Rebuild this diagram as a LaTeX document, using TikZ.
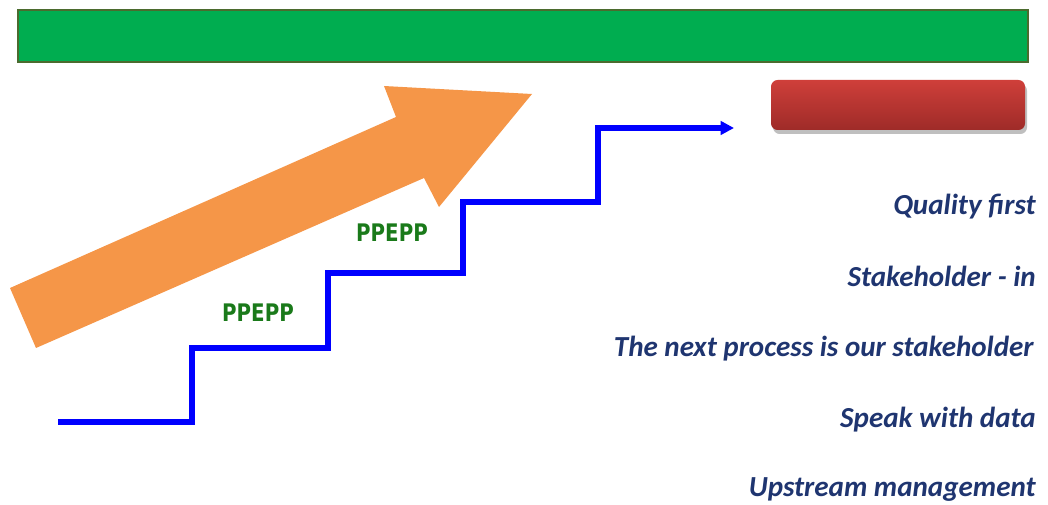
\documentclass[tikz,border=0pt]{standalone}
\usepackage{fontspec}
\usepackage{xcolor}
\newfontfamily\bodyfont{Carlito}
\newfontfamily\labelfont{DejaVu Sans}
\definecolor{bargreen}{HTML}{00AD50}
\definecolor{barrim}{HTML}{4B6B2E}
\definecolor{boxtop}{HTML}{CF3F3A}
\definecolor{boxbot}{HTML}{9E2B28}
\definecolor{arroworange}{HTML}{F59648}
\definecolor{stepblue}{HTML}{0000FF}
\definecolor{ppgreen}{HTML}{1A7A1A}
\definecolor{navytext}{HTML}{1F3570}
\usetikzlibrary{arrows.meta}
\tikzset{
  motto/.style={anchor=base east,inner sep=0,text=navytext,font=\bodyfont\bfseries\itshape\fontsize{21.8}{24}\selectfont},
  pplabel/.style={anchor=base,inner sep=0,text=ppgreen,font=\labelfont\bfseries\fontsize{16.5}{20}\selectfont},
  stairs/.style={draw=stepblue,line width=4.5pt,-{Triangle[length=10pt,width=10pt]}}
}
\begin{document}
\begin{tikzpicture}[x=0.75pt,y=-0.75pt]
\useasboundingbox (0,0) rectangle (1048,505);
\fill[bargreen,draw=barrim,line width=1.2pt] (18,10) rectangle (1028,62);
\fill[black!25,rounded corners=5] (773,84) rectangle (1027,134);
\shade[top color=boxtop,bottom color=boxbot,rounded corners=5] (771,80) rectangle (1025,130);
\fill[arroworange] (10,288) -- (396,117) -- (384,86) -- (532,94) -- (439,207) -- (424,178) -- (36,348) -- cycle;
\coordinate (s0) at (58,422);
\coordinate (s1) at (192,422);
\coordinate (s2) at (192,348);
\coordinate (s3) at (328,348);
\coordinate (s4) at (328,273);
\coordinate (s5) at (463,273);
\coordinate (s6) at (463,202);
\coordinate (s7) at (598,202);
\coordinate (s8) at (598,128);
\coordinate (s9) at (734,128);
\draw[stairs] (s0) -- (s1) -- (s2) -- (s3) -- (s4) -- (s5) -- (s6) -- (s7) -- (s8) -- (s9);
\node[pplabel] (pp1) at (258,322) {\scalebox{0.9}[1.1]{PPEPP}};
\node[pplabel] (pp2) at (392,242) {\scalebox{0.9}[1.1]{PPEPP}};
\node[motto] (m1) at (1036,215) {Quality first};
\node[motto] (m2) at (1036,287) {Stakeholder - in};
\node[motto] (m3) at (1034,357) {The next process is our stakeholder};
\node[motto] (m4) at (1036,427) {Speak with data};
\node[motto] (m5) at (1036,496) {Upstream management};
\end{tikzpicture}
\end{document}
